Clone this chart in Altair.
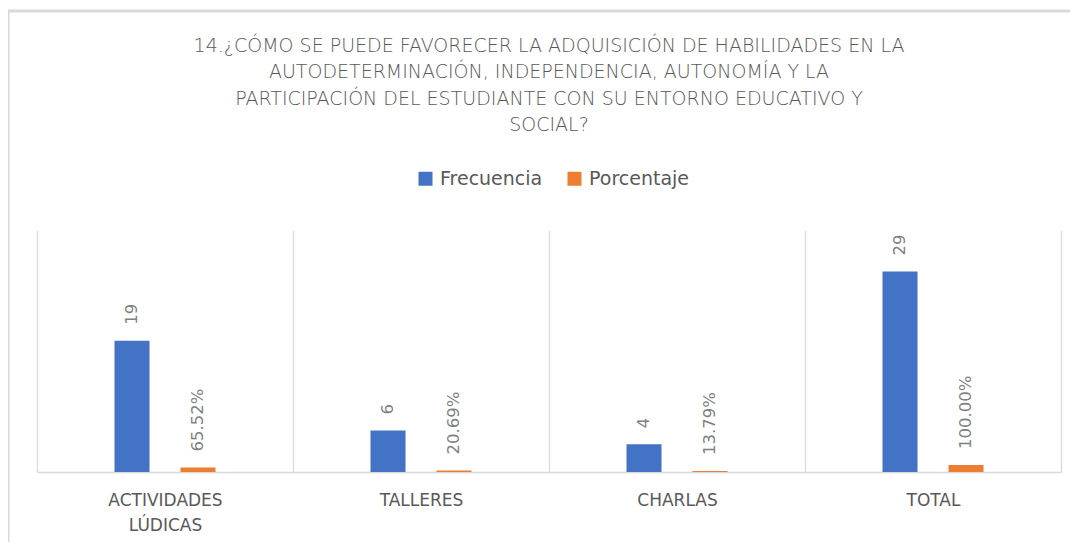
import altair as alt
import pandas as pd

categorias = ["ACTIVIDADES LÚDICAS", "TALLERES", "CHARLAS", "TOTAL"]
frecuencia = [19, 6, 4, 29]
porcentaje = [0.6552, 0.2069, 0.1379, 1.0]
series = ["Frecuencia", "Porcentaje"]
colores = ["#4472C4", "#ED7D31"]
titulo = [
    "14.¿CÓMO SE PUEDE FAVORECER LA ADQUISICIÓN DE HABILIDADES EN LA",
    "AUTODETERMINACIÓN, INDEPENDENCIA, AUTONOMÍA Y LA",
    "PARTICIPACIÓN DEL ESTUDIANTE CON SU ENTORNO EDUCATIVO Y",
    "SOCIAL?",
]

rows = []
for c, f, p in zip(categorias, frecuencia, porcentaje):
    rows.append({"categoria": c, "serie": "Frecuencia", "valor": f, "etiqueta": f"{f}"})
    rows.append({"categoria": c, "serie": "Porcentaje", "valor": p, "etiqueta": f"{p*100:.2f}%"})
df = pd.DataFrame(rows)

x = alt.X(
    "categoria:N", sort=categorias, title=None,
    scale=alt.Scale(paddingInner=0, paddingOuter=0),
    axis=alt.Axis(
        tickBand="extent", grid=True, gridColor="#D9D9D9", gridWidth=1.3,
        ticks=False, domainColor="#D9D9D9", domainWidth=1.5, labelAngle=0,
        labelFont="DejaVu Sans", labelFontSize=17, labelColor="#595959",
        labelPadding=20, labelLineHeight=25, labelExpr="split(datum.label, ' ')",
    ),
)
xo = alt.XOffset("serie:N", sort=series,
                 scale=alt.Scale(paddingInner=0.12, paddingOuter=1))
y = alt.Y("valor:Q", scale=alt.Scale(domain=[0, 35]), axis=None)

base = alt.Chart(df)
bars = base.mark_bar(width=35).encode(
    x=x, xOffset=xo, y=y,
    color=alt.Color(
        "serie:N", scale=alt.Scale(domain=series, range=colores),
        legend=alt.Legend(
            title=None, orient="none", legendX=379, legendY=-61,
            direction="horizontal", symbolType="square",
            symbolSize=196, symbolStrokeWidth=0, labelFont="DejaVu Sans",
            labelFontSize=19, labelColor="#595959", columnPadding=22,
            labelOffset=5,
        ),
    ),
)
labels = base.mark_text(
    angle=270, align="left", baseline="middle", dx=16,
    font="DejaVu Sans", fontSize=16.5, color="#7F7F7F",
).encode(x=x, xOffset=xo, y=y, text="etiqueta:N")

# chart frame (light border at top and left, as in the cropped original)
marco = alt.Chart(pd.DataFrame({"k": [0]}))
borde_sup = marco.mark_rule(color="#D9D9D9", strokeWidth=3).encode(
    x=alt.value(-29), x2=alt.value(1045), y=alt.value(-219)
)
borde_izq = marco.mark_rule(color="#D9D9D9", strokeWidth=3).encode(
    x=alt.value(-29), y=alt.value(-220), y2=alt.value(320)
)

chart = alt.layer(borde_sup, borde_izq, bars, labels).properties(
    width=1024, height=242,
    autosize=alt.AutoSizeParams(type="none"),
    padding={"left": 29, "top": 222, "right": 9, "bottom": 70},
    title=alt.TitleParams(
        text=titulo, font="DejaVu Sans", fontSize=19, fontWeight=200,
        color="#595959", lineHeight=26.5, anchor="middle", offset=-126.5,
    ),
).configure_view(stroke=None)

chart.save("out.html", embed_options={"renderer": "svg", "actions": False})
